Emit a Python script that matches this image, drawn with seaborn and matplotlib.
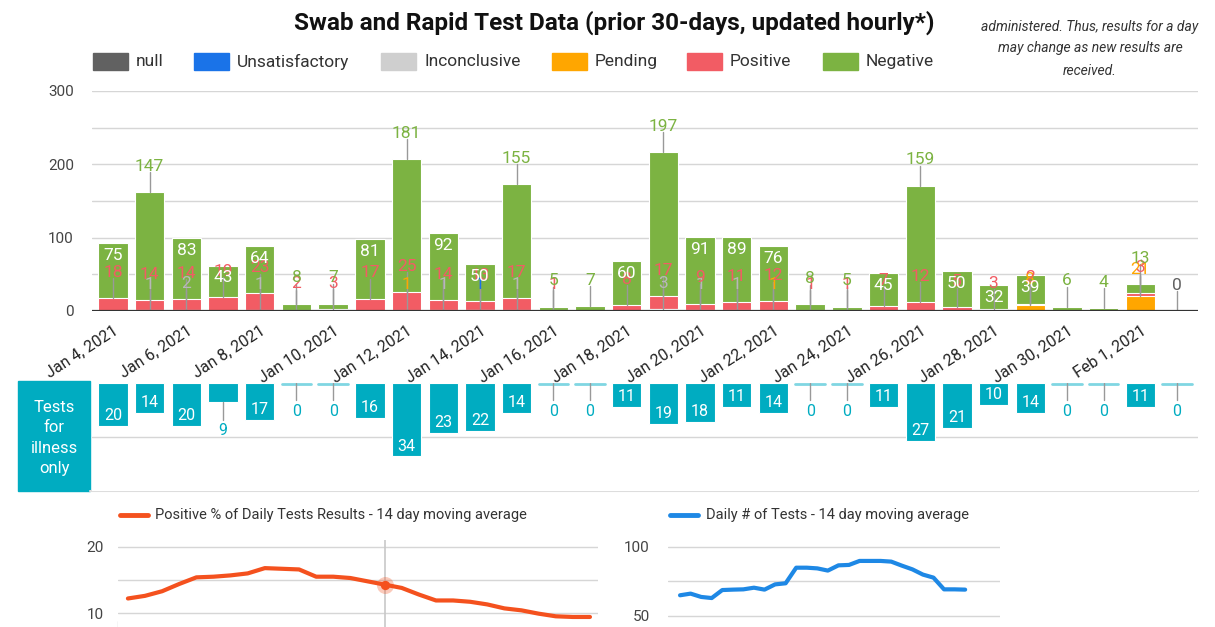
import numpy as np
import pandas as pd
import seaborn as sns
import matplotlib.pyplot as plt
from matplotlib.patches import Rectangle

# data
days = ["Jan 4, 2021", "Jan 5, 2021", "Jan 6, 2021", "Jan 7, 2021", "Jan 8, 2021",
        "Jan 9, 2021", "Jan 10, 2021", "Jan 11, 2021", "Jan 12, 2021", "Jan 13, 2021",
        "Jan 14, 2021", "Jan 15, 2021", "Jan 16, 2021", "Jan 17, 2021", "Jan 18, 2021",
        "Jan 19, 2021", "Jan 20, 2021", "Jan 21, 2021", "Jan 22, 2021", "Jan 23, 2021",
        "Jan 24, 2021", "Jan 25, 2021", "Jan 26, 2021", "Jan 27, 2021", "Jan 28, 2021",
        "Jan 29, 2021", "Jan 30, 2021", "Jan 31, 2021", "Feb 1, 2021", "Feb 2, 2021"]

null_vals = [0] * 30
unsatisfactory = [0, 0, 0, 0, 0, 0, 0, 0, 0, 0, 1, 0, 0, 0, 0,
                  0, 0, 0, 0, 0, 0, 0, 0, 0, 0, 0, 0, 0, 0, 0]
inconclusive = [0, 1, 2, 0, 1, 0, 0, 0, 0, 1, 0, 1, 0, 0, 0,
                3, 1, 1, 0, 0, 0, 0, 0, 0, 0, 0, 0, 0, 0, 0]
pending = [0, 0, 0, 0, 0, 0, 0, 0, 1, 0, 0, 0, 0, 0, 0,
           0, 0, 0, 1, 0, 0, 0, 0, 0, 0, 8, 0, 0, 21, 0]
positive = [18, 14, 14, 19, 23, 2, 3, 17, 25, 14, 13, 17, 1, 0, 8,
            17, 9, 11, 12, 1, 1, 7, 12, 5, 3, 2, 0, 0, 3, 0]
negative = [75, 147, 83, 43, 64, 8, 7, 81, 181, 92, 50, 155, 5, 7, 60,
            197, 91, 89, 76, 8, 5, 45, 159, 50, 32, 39, 6, 4, 13, 0]

illness = [20, 14, 20, 9, 17, 0, 0, 16, 34, 23, 22, 14, 0, 0, 11,
           19, 18, 11, 14, 0, 0, 11, 27, 21, 10, 14, 0, 0, 11, 0]

pos_pct_avg = [12.2, 12.6, 13.3, 14.4, 15.4, 15.5, 15.7, 16.0, 16.8, 16.7, 16.6, 15.5, 15.5, 15.3,
               14.8, 14.3, 13.8, 12.8, 11.9, 11.9, 11.7, 11.3, 10.7, 10.4, 9.9, 9.5, 9.4, 9.4]
tests_avg = [65.0, 66.2, 63.8, 63.0, 68.8, 69.1, 69.3, 70.5, 69.1, 72.9, 73.7, 85.0, 85.0, 84.5,
             82.9, 86.7, 87.0, 89.9, 89.9, 89.9, 89.4, 86.5, 83.8, 80.0, 77.8, 69.3, 69.3, 69.1]

series = ["null", "Unsatisfactory", "Inconclusive", "Pending", "Positive", "Negative"]
colors = ["#616161", "#1a73e8", "#cfcfcf", "#ffa600", "#f25c64", "#7cb342"]
label_colors = ["#616161", "#1a73e8", "#b8b8b8", "#ffa600", "#f25c64", "#7cb342"]
stack = [null_vals, unsatisfactory, inconclusive, pending, positive, negative]

sns.set_theme(style="white")
plt.rcParams['font.family'] = ['Roboto', 'DejaVu Sans']

W, H = 1215, 627
fig = plt.figure(figsize=(W / 100, H / 100), dpi=100)


def px(l, t, r, b):
    return [l / W, 1 - b / H, (r - l) / W, (b - t) / H]


# overlay in pixel coords for title, legend, notes
bg = fig.add_axes([0, 0, 1, 1])
bg.set_xlim(0, W)
bg.set_ylim(H, 0)
bg.axis("off")

bg.text(614, 23, "Swab and Rapid Test Data (prior 30-days, updated hourly*)",
        ha="center", va="center", fontsize=17.5, fontweight="bold", color="#111")

leg_x = [93, 194, 381, 552, 687, 823]
for x0, name, c in zip(leg_x, series, colors):
    bg.add_patch(Rectangle((x0, 53), 35, 17, color=c))
    bg.text(x0 + 43, 61.5, name, ha="left", va="center", fontsize=12.5, color="#333")

note = ["administered. Thus, results for a day", "may change as new results are", "received."]
for y0, line in zip([27, 48, 71], note):
    bg.text(1090, y0, line, ha="center", va="center", fontsize=10, style="italic", color="#333")

# illness label box
bg.add_patch(Rectangle((18, 381), 72, 110, color="#00acc1"))
bg.text(54, 438, "Tests\nfor\nillness\nonly", ha="center", va="center", fontsize=12,
        color="white", linespacing=1.45)
bg.plot([90, 1198], [491, 491], color="#dddddd", lw=1.5)

# legends of the two line charts
bg.plot([120, 148], [515, 515], color="#f4511e", lw=3.5, solid_capstyle="round")
bg.text(155, 515, "Positive % of Daily Tests Results - 14 day moving average",
        ha="left", va="center", fontsize=10.5, color="#333")
bg.plot([670, 698], [515, 515], color="#1e88e5", lw=3.5, solid_capstyle="round")
bg.text(706, 515, "Daily # of Tests - 14 day moving average",
        ha="left", va="center", fontsize=10.5, color="#333")

# ---- main stacked bar chart ----
ax = fig.add_axes(px(92, 91, 1198, 311))
cum = np.cumsum(np.array(stack), axis=0)
for k in range(len(series) - 1, -1, -1):
    sns.barplot(x=days, y=cum[k], order=days, color=colors[k], saturation=1, width=0.8,
                edgecolor="white", linewidth=0.8, ax=ax, zorder=2)

for i in range(len(days)):
    base = 0
    for k in range(len(series)):
        v = stack[k][i]
        top = base + v
        if v > 0:
            if series[k] == "Negative" and v >= 30 and top < 140:
                ax.text(i, top - 17, str(v), ha="center", va="center", fontsize=12.5,
                        color="white", zorder=5)
            else:
                ly = top + 35
                ax.plot([i, i], [top, ly - 8], color="#999999", lw=1, zorder=3)
                ax.text(i, ly, str(v), ha="center", va="center", fontsize=12.5,
                        color=label_colors[k], zorder=4)
        base = top
    if base == 0:
        ax.plot([i, i], [0, 27], color="#999999", lw=1, zorder=3)
        ax.text(i, 35, "0", ha="center", va="center", fontsize=12.5, color="#616161", zorder=4)

ax.set_xlim(-0.572, 29.57)
ax.set_ylim(0, 300)
ax.set_yticks(range(0, 301, 50))
ax.set_yticklabels(["0", "", "100", "", "200", "", "300"], fontsize=11, color="#444")
ax.yaxis.grid(True, color="#d6d6d6", lw=1)
ax.set_axisbelow(True)
ax.axhline(0, color="#333333", lw=1.6, zorder=6)
ax.set_xticks(range(0, 30, 2))
ax.set_xticklabels(days[::2], rotation=33, ha="right", rotation_mode="anchor",
                   fontsize=11.5, color="#222")
ax.tick_params(axis="x", length=0, pad=9)
ax.tick_params(axis="y", length=0, pad=13)
ax.set_xlabel("")
ax.set_ylabel("")
sns.despine(ax=ax, left=True, bottom=True)

# ---- tests for illness only ----
ax2 = fig.add_axes(px(92, 383, 1198, 491))
sns.barplot(x=days, y=illness, order=days, color="#00acc1", saturation=1, width=0.8,
            edgecolor="white", linewidth=0.8, ax=ax2, zorder=2)
for i, v in enumerate(illness):
    if v == 0:
        ax2.plot([i - 0.4, i + 0.4], [0.4, 0.4], color="#80d6e2", lw=2, zorder=3)
    if v >= 10:
        ax2.text(i, v - 4.8, str(v), ha="center", va="center", fontsize=11.5,
                 color="white", zorder=4)
    else:
        ax2.plot([i, i], [v, v + 8], color="#999999", lw=1, zorder=3)
        ax2.text(i, v + 13, str(v), ha="center", va="center", fontsize=11.5,
                 color="#00acc1", zorder=4)
ax2.set_xlim(-0.572, 29.57)
ax2.set_ylim(50, 0)
ax2.set_yticks([25])
ax2.yaxis.grid(True, color="#d6d6d6", lw=1)
ax2.set_axisbelow(True)
ax2.set_xticks([])
ax2.set_yticklabels([])
ax2.tick_params(length=0)
ax2.set_xlabel("")
ax2.set_ylabel("")
sns.despine(ax=ax2, left=True, bottom=True)

# ---- positive % moving average ----
ax3 = fig.add_axes(px(118, 540, 598, 680))
sns.lineplot(x=range(len(pos_pct_avg)), y=pos_pct_avg, color="#f4511e", lw=3, ax=ax3, zorder=3)
ax3.axvline(15, color="#c8c8c8", lw=1.2, zorder=2)
ax3.scatter([15], [pos_pct_avg[15]], s=150, color="#f4511e", alpha=0.3, zorder=4, lw=0)
ax3.scatter([15], [pos_pct_avg[15]], s=45, color="#f4511e", zorder=5, lw=0)
ax3.set_xlim(-0.58, 27.47)
ax3.set_ylim(-0.15, 21.06)
ax3.set_yticks([0, 5, 10, 15, 20])
ax3.set_yticklabels(["0", "", "10", "", "20"], fontsize=11, color="#444")
ax3.yaxis.grid(True, color="#d6d6d6", lw=1)
ax3.set_xticks([])
ax3.tick_params(length=0, pad=10)
sns.despine(ax=ax3, left=True, bottom=True)

# tooltip box partly visible at the bottom
bg.add_patch(Rectangle((118, 621), 222, 20, color="#cccccc", zorder=10))
bg.text(124, 632, "Positivity Threshold: 10", ha="left", va="center", fontsize=11,
        color="#333", zorder=11)

# ---- daily tests moving average ----
ax4 = fig.add_axes(px(668, 540, 1000, 680))
sns.lineplot(x=range(len(tests_avg)), y=tests_avg, color="#1e88e5", lw=3, ax=ax4, zorder=3)
ax4.set_xlim(-1.14, 30.3)
ax4.set_ylim(3.6, 105.07)
ax4.set_yticks([25, 50, 75, 100])
ax4.set_yticklabels(["", "50", "", "100"], fontsize=11, color="#444")
ax4.yaxis.grid(True, color="#d6d6d6", lw=1)
ax4.set_xticks([])
ax4.tick_params(length=0, pad=13)
sns.despine(ax=ax4, left=True, bottom=True)

fig.savefig("out.png", dpi=100)
